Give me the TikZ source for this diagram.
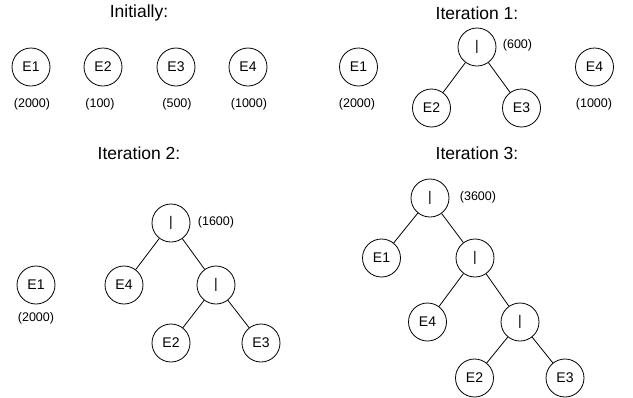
\documentclass[tikz,border=0pt]{standalone}
\usepackage{fontspec}
\setmainfont{Liberation Sans}
\begin{document}
\begin{tikzpicture}[x=1pt,y=-1pt,
  nd/.style={circle,draw,line width=0.8pt,minimum size=38pt,inner sep=0pt,font=\fontsize{14}{16}\selectfont},
  lbl/.style={inner sep=0pt,font=\fontsize{12.5}{14}\selectfont},
  ttl/.style={inner sep=0pt,font=\fontsize{17.5}{20}\selectfont},
  edge/.style={line width=0.8pt}]
\useasboundingbox (0,0) rectangle (633,397);
% Initially
\node[ttl] (t0) at (139,13) {Initially:};
\node[nd] (a1) at (31,67) {E1};
\node[nd] (a2) at (103,67) {E2};
\node[nd] (a3) at (176,67) {E3};
\node[nd] (a4) at (248,67) {E4};
\node[lbl] (la1) at (32,104) {(2000)};
\node[lbl] (la2) at (100,104) {(100)};
\node[lbl] (la3) at (177,104) {(500)};
\node[lbl] (la4) at (249,104) {(1000)};
% Iteration 1
\node[ttl] (t1) at (477,13) {Iteration 1:};
\node[nd] (b1) at (358.5,67) {E1};
\node[lbl] (lb1) at (357,104) {(2000)};
\node[nd] (bu) at (477,47) {|};
\node[lbl] (lbu) at (517.5,45) {(600)};
\node[nd] (b2) at (431.5,108) {E2};
\node[nd] (b3) at (521.5,108) {E3};
\node[nd] (b4) at (594.5,67) {E4};
\node[lbl] (lb4) at (594,104) {(1000)};
\draw[edge] (bu) -- (b2);
\draw[edge] (bu) -- (b3);
% Iteration 2
\node[ttl] (t2) at (139,153) {Iteration 2:};
\node[nd] (c1) at (36,285) {E1};
\node[lbl] (lc1) at (36,318) {(2000)};
\node[nd] (cu) at (171,223) {|};
\node[lbl] (lcu) at (216,222) {(1600)};
\node[nd] (c4) at (124,285) {E4};
\node[nd] (cv) at (216,285) {|};
\node[nd] (c2) at (171,343) {E2};
\node[nd] (c3) at (261,343) {E3};
\draw[edge] (cu) -- (c4);
\draw[edge] (cu) -- (cv);
\draw[edge] (cv) -- (c2);
\draw[edge] (cv) -- (c3);
% Iteration 3
\node[ttl] (t3) at (477,153) {Iteration 3:};
\node[nd] (du) at (430,198) {|};
\node[lbl] (ldu) at (478,197) {(3600)};
\node[nd] (d1) at (381.5,258) {E1};
\node[nd] (dv) at (475,258) {|};
\node[nd] (d4) at (427.5,322) {E4};
\node[nd] (dw) at (520,322) {|};
\node[nd] (d2) at (474.5,378) {E2};
\node[nd] (d3) at (565,378) {E3};
\draw[edge] (du) -- (d1);
\draw[edge] (du) -- (dv);
\draw[edge] (dv) -- (d4);
\draw[edge] (dv) -- (dw);
\draw[edge] (dw) -- (d2);
\draw[edge] (dw) -- (d3);
\end{tikzpicture}
\end{document}
